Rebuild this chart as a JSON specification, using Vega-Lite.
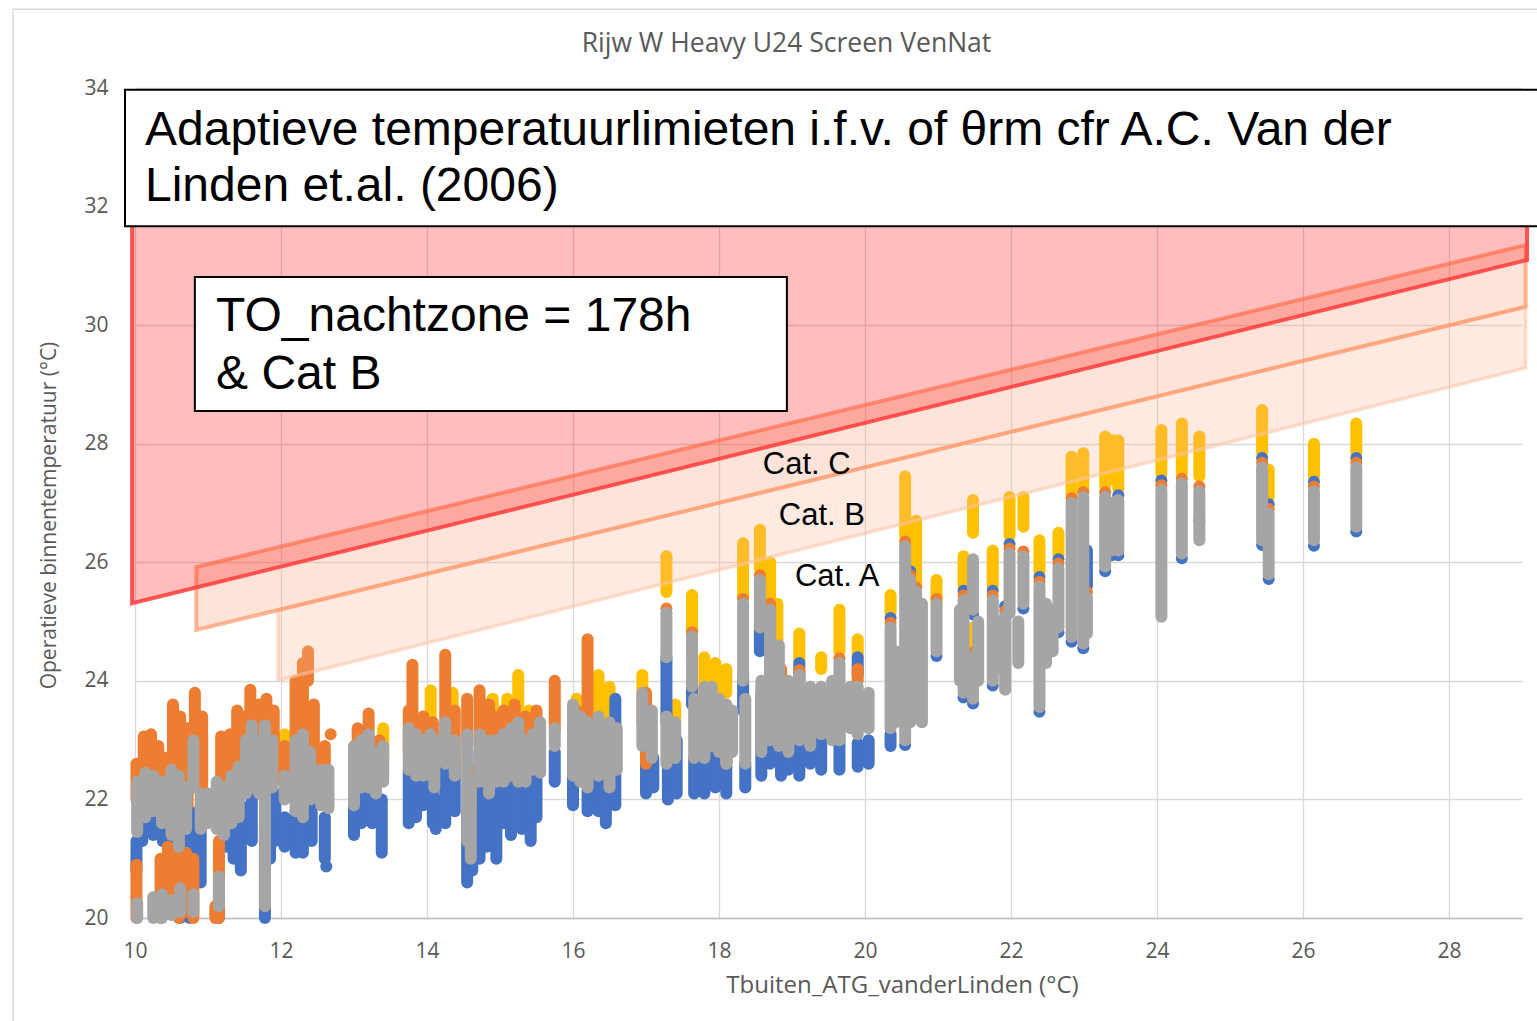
{
  "$schema": "https://vega.github.io/schema/vega-lite/v6.json",
  "autosize": "none",
  "width": 1387,
  "height": 830,
  "padding": {"left": 135, "top": 88, "right": 15, "bottom": 103},
  "background": "white",
  "title": {
    "text": "Rijw W Heavy U24 Screen VenNat",
    "font": "Open Sans",
    "fontSize": 26.5,
    "fontWeight": "normal",
    "color": "#595959",
    "anchor": "middle",
    "baseline": "bottom",
    "dx": -42,
    "offset": -76
  },
  "config": {
    "view": {"stroke": null},
    "axis": {
      "grid": true,
      "gridColor": "#d9d9d9",
      "gridWidth": 1.3,
      "ticks": false,
      "tickSize": 0,
      "labelFlush": false,
      "labelFont": "Open Sans",
      "labelFontSize": 21,
      "labelColor": "#595959",
      "titleFont": "Open Sans",
      "titleFontWeight": "normal",
      "titleColor": "#595959"
    },
    "axisX": {
      "domainColor": "#bfbfbf",
      "domainWidth": 1.5,
      "labelPadding": 22,
      "titleFontSize": 24,
      "titleX": 767,
      "titleY": 67,
      "titleAlign": "center",
      "titleBaseline": "middle"
    },
    "axisY": {
      "domain": false,
      "labelPadding": 27,
      "titleFontSize": 21,
      "titleX": -86,
      "titleY": 427,
      "titleAngle": -90,
      "titleAlign": "center",
      "titleBaseline": "middle"
    }
  },
  "datasets": {
    "reeksen": [
      {"x": 10.03, "s": "geel", "lo": 22.0, "hi": 22.25},
      {"x": 11.35, "s": "geel", "lo": 22.7, "hi": 23.0},
      {"x": 12.05, "s": "geel", "lo": 22.7, "hi": 23.1},
      {"x": 12.55, "s": "geel", "lo": 22.6, "hi": 22.8},
      {"x": 13.05, "s": "geel", "lo": 22.5, "hi": 22.8},
      {"x": 13.4, "s": "geel", "lo": 22.6, "hi": 23.2},
      {"x": 14.05, "s": "geel", "lo": 22.6, "hi": 23.84},
      {"x": 14.35, "s": "geel", "lo": 23.0, "hi": 23.8},
      {"x": 14.8, "s": "geel", "lo": 23.0, "hi": 23.6},
      {"x": 14.9, "s": "geel", "lo": 23.2, "hi": 23.7},
      {"x": 15.1, "s": "geel", "lo": 23.0, "hi": 23.7},
      {"x": 15.25, "s": "geel", "lo": 23.0, "hi": 24.1},
      {"x": 15.4, "s": "geel", "lo": 22.9, "hi": 23.5},
      {"x": 16.05, "s": "geel", "lo": 23.2, "hi": 23.7},
      {"x": 16.35, "s": "geel", "lo": 23.2, "hi": 24.1},
      {"x": 16.5, "s": "geel", "lo": 23.4, "hi": 23.9},
      {"x": 16.95, "s": "geel", "lo": 23.3, "hi": 24.1},
      {"x": 17.28, "s": "geel", "lo": 25.5, "hi": 26.1},
      {"x": 17.4, "s": "geel", "lo": 23.3, "hi": 23.6},
      {"x": 17.63, "s": "geel", "lo": 24.8, "hi": 25.45},
      {"x": 17.8, "s": "geel", "lo": 23.8, "hi": 24.4},
      {"x": 17.95, "s": "geel", "lo": 23.7, "hi": 24.3},
      {"x": 18.1, "s": "geel", "lo": 23.8, "hi": 24.2},
      {"x": 18.33, "s": "geel", "lo": 25.4, "hi": 26.32},
      {"x": 18.56, "s": "geel", "lo": 25.9, "hi": 26.55},
      {"x": 18.7, "s": "geel", "lo": 25.1, "hi": 26.0},
      {"x": 18.8, "s": "geel", "lo": 24.5, "hi": 25.3},
      {"x": 19.1, "s": "geel", "lo": 24.3, "hi": 24.8},
      {"x": 19.4, "s": "geel", "lo": 24.2, "hi": 24.4},
      {"x": 19.65, "s": "geel", "lo": 24.5, "hi": 25.2},
      {"x": 19.9, "s": "geel", "lo": 24.4, "hi": 24.7},
      {"x": 20.35, "s": "geel", "lo": 25.15, "hi": 25.45},
      {"x": 20.55, "s": "geel", "lo": 26.45, "hi": 27.45},
      {"x": 20.7, "s": "geel", "lo": 25.6, "hi": 26.7},
      {"x": 20.98, "s": "geel", "lo": 25.3, "hi": 25.7},
      {"x": 21.35, "s": "geel", "lo": 25.6, "hi": 26.1},
      {"x": 21.48, "s": "geel", "lo": 26.5, "hi": 27.05},
      {"x": 21.48, "s": "geel", "lo": 24.6, "hi": 24.9},
      {"x": 21.75, "s": "geel", "lo": 25.6, "hi": 26.2},
      {"x": 21.98, "s": "geel", "lo": 26.45, "hi": 27.1},
      {"x": 22.17, "s": "geel", "lo": 26.6, "hi": 27.1},
      {"x": 22.39, "s": "geel", "lo": 25.85, "hi": 26.37},
      {"x": 22.65, "s": "geel", "lo": 26.12, "hi": 26.5},
      {"x": 22.83, "s": "geel", "lo": 27.15, "hi": 27.78},
      {"x": 22.99, "s": "geel", "lo": 27.25, "hi": 27.84},
      {"x": 23.29, "s": "geel", "lo": 27.3, "hi": 28.12},
      {"x": 23.38, "s": "geel", "lo": 27.4, "hi": 28.06},
      {"x": 23.47, "s": "geel", "lo": 27.25, "hi": 28.06},
      {"x": 24.06, "s": "geel", "lo": 27.5, "hi": 28.23},
      {"x": 24.34, "s": "geel", "lo": 27.5, "hi": 28.34},
      {"x": 24.58, "s": "geel", "lo": 27.45, "hi": 28.12},
      {"x": 25.44, "s": "geel", "lo": 27.85, "hi": 28.57},
      {"x": 25.53, "s": "geel", "lo": 27.1, "hi": 27.56},
      {"x": 26.15, "s": "geel", "lo": 27.45, "hi": 28.0},
      {"x": 26.73, "s": "geel", "lo": 27.85, "hi": 28.34},

      {"x": 10.02, "s": "blauw", "lo": 20.8, "hi": 21.3},
      {"x": 10.1, "s": "blauw", "lo": 21.3, "hi": 21.9},
      {"x": 10.25, "s": "blauw", "lo": 21.4, "hi": 22.0},
      {"x": 10.38, "s": "blauw", "lo": 21.3, "hi": 21.9},
      {"x": 10.5, "s": "blauw", "lo": 21.3, "hi": 21.9},
      {"x": 10.62, "s": "blauw", "lo": 20.0, "hi": 21.1},
      {"x": 10.75, "s": "blauw", "lo": 20.0, "hi": 21.8},
      {"x": 10.9, "s": "blauw", "lo": 20.6, "hi": 21.9},
      {"x": 11.15, "s": "blauw", "lo": 20.0, "hi": 20.3},
      {"x": 11.25, "s": "blauw", "lo": 21.2, "hi": 21.9},
      {"x": 11.35, "s": "blauw", "lo": 21.0, "hi": 21.8},
      {"x": 11.45, "s": "blauw", "lo": 20.8, "hi": 21.9},
      {"x": 11.6, "s": "blauw", "lo": 21.3, "hi": 22.2},
      {"x": 11.78, "s": "blauw", "lo": 20.0, "hi": 21.5},
      {"x": 11.85, "s": "blauw", "lo": 21.0, "hi": 22.0},
      {"x": 11.92, "s": "blauw", "lo": 21.3, "hi": 22.1},
      {"x": 12.05, "s": "blauw", "lo": 21.2, "hi": 21.7},
      {"x": 12.2, "s": "blauw", "lo": 21.1, "hi": 21.8},
      {"x": 12.3, "s": "blauw", "lo": 21.1, "hi": 22.0},
      {"x": 12.42, "s": "blauw", "lo": 21.3, "hi": 22.0},
      {"x": 12.6, "s": "blauw", "lo": 21.0, "hi": 21.7},
      {"x": 12.62, "s": "blauw", "lo": 20.87, "hi": 20.87},
      {"x": 13.0, "s": "blauw", "lo": 21.4, "hi": 22.1},
      {"x": 13.1, "s": "blauw", "lo": 21.6, "hi": 22.2},
      {"x": 13.25, "s": "blauw", "lo": 21.6, "hi": 22.1},
      {"x": 13.38, "s": "blauw", "lo": 21.1, "hi": 22.0},
      {"x": 13.75, "s": "blauw", "lo": 21.6, "hi": 22.5},
      {"x": 13.85, "s": "blauw", "lo": 21.7, "hi": 22.4},
      {"x": 13.95, "s": "blauw", "lo": 21.9, "hi": 22.5},
      {"x": 14.08, "s": "blauw", "lo": 21.6, "hi": 22.3},
      {"x": 14.12, "s": "blauw", "lo": 21.5, "hi": 22.0},
      {"x": 14.25, "s": "blauw", "lo": 21.6, "hi": 22.9},
      {"x": 14.38, "s": "blauw", "lo": 21.8, "hi": 22.7},
      {"x": 14.55, "s": "blauw", "lo": 20.6, "hi": 21.8},
      {"x": 14.62, "s": "blauw", "lo": 20.8, "hi": 22.0},
      {"x": 14.72, "s": "blauw", "lo": 21.0, "hi": 22.8},
      {"x": 14.82, "s": "blauw", "lo": 21.2, "hi": 22.6},
      {"x": 14.95, "s": "blauw", "lo": 21.0, "hi": 22.3},
      {"x": 15.05, "s": "blauw", "lo": 21.6, "hi": 22.3},
      {"x": 15.15, "s": "blauw", "lo": 21.4, "hi": 22.4},
      {"x": 15.3, "s": "blauw", "lo": 21.5, "hi": 22.3},
      {"x": 15.42, "s": "blauw", "lo": 21.3, "hi": 22.5},
      {"x": 15.5, "s": "blauw", "lo": 21.7, "hi": 22.5},
      {"x": 15.75, "s": "blauw", "lo": 22.3, "hi": 22.8},
      {"x": 16.0, "s": "blauw", "lo": 21.9, "hi": 22.9},
      {"x": 16.2, "s": "blauw", "lo": 21.8, "hi": 22.8},
      {"x": 16.35, "s": "blauw", "lo": 21.8, "hi": 23.0},
      {"x": 16.45, "s": "blauw", "lo": 21.6, "hi": 23.2},
      {"x": 16.58, "s": "blauw", "lo": 21.9, "hi": 23.7},
      {"x": 17.0, "s": "blauw", "lo": 22.1, "hi": 22.6},
      {"x": 17.1, "s": "blauw", "lo": 22.2, "hi": 22.7},
      {"x": 17.28, "s": "blauw", "lo": 23.3, "hi": 24.4},
      {"x": 17.3, "s": "blauw", "lo": 22.0, "hi": 22.6},
      {"x": 17.42, "s": "blauw", "lo": 22.1, "hi": 23.0},
      {"x": 17.63, "s": "blauw", "lo": 23.6, "hi": 24.4},
      {"x": 17.66, "s": "blauw", "lo": 22.1, "hi": 22.7},
      {"x": 17.8, "s": "blauw", "lo": 22.1, "hi": 23.4},
      {"x": 17.95, "s": "blauw", "lo": 22.2, "hi": 23.1},
      {"x": 18.1, "s": "blauw", "lo": 22.1, "hi": 22.9},
      {"x": 18.33, "s": "blauw", "lo": 23.5, "hi": 24.1},
      {"x": 18.36, "s": "blauw", "lo": 22.2, "hi": 22.6},
      {"x": 18.56, "s": "blauw", "lo": 24.5, "hi": 24.95},
      {"x": 18.58, "s": "blauw", "lo": 22.4, "hi": 23.8},
      {"x": 18.7, "s": "blauw", "lo": 22.6, "hi": 24.0},
      {"x": 18.85, "s": "blauw", "lo": 22.4, "hi": 23.6},
      {"x": 18.95, "s": "blauw", "lo": 22.5, "hi": 23.2},
      {"x": 19.1, "s": "blauw", "lo": 22.4, "hi": 24.3},
      {"x": 19.25, "s": "blauw", "lo": 22.6, "hi": 23.4},
      {"x": 19.4, "s": "blauw", "lo": 22.5, "hi": 23.0},
      {"x": 19.65, "s": "blauw", "lo": 22.5, "hi": 23.1},
      {"x": 19.9, "s": "blauw", "lo": 24.1, "hi": 24.4},
      {"x": 19.9, "s": "blauw", "lo": 22.55, "hi": 22.95},
      {"x": 20.05, "s": "blauw", "lo": 22.6, "hi": 23.0},
      {"x": 20.35, "s": "blauw", "lo": 25.06, "hi": 25.06},
      {"x": 20.35, "s": "blauw", "lo": 22.9, "hi": 23.1},
      {"x": 20.55, "s": "blauw", "lo": 22.92, "hi": 22.92},
      {"x": 20.62, "s": "blauw", "lo": 25.85, "hi": 25.85},
      {"x": 20.7, "s": "blauw", "lo": 24.4, "hi": 24.8},
      {"x": 20.98, "s": "blauw", "lo": 24.42, "hi": 24.42},
      {"x": 21.35, "s": "blauw", "lo": 25.52, "hi": 25.52},
      {"x": 21.35, "s": "blauw", "lo": 23.72, "hi": 23.72},
      {"x": 21.48, "s": "blauw", "lo": 25.12, "hi": 25.12},
      {"x": 21.48, "s": "blauw", "lo": 23.62, "hi": 23.62},
      {"x": 21.75, "s": "blauw", "lo": 25.52, "hi": 25.52},
      {"x": 21.75, "s": "blauw", "lo": 23.92, "hi": 23.92},
      {"x": 21.92, "s": "blauw", "lo": 25.26, "hi": 25.26},
      {"x": 21.98, "s": "blauw", "lo": 26.31, "hi": 26.31},
      {"x": 22.17, "s": "blauw", "lo": 25.22, "hi": 25.22},
      {"x": 22.39, "s": "blauw", "lo": 25.75, "hi": 25.75},
      {"x": 22.39, "s": "blauw", "lo": 23.48, "hi": 23.48},
      {"x": 22.65, "s": "blauw", "lo": 26.05, "hi": 26.05},
      {"x": 22.65, "s": "blauw", "lo": 24.82, "hi": 24.82},
      {"x": 22.83, "s": "blauw", "lo": 24.66, "hi": 24.66},
      {"x": 22.99, "s": "blauw", "lo": 24.55, "hi": 24.55},
      {"x": 23.04, "s": "blauw", "lo": 25.6, "hi": 26.2},
      {"x": 23.29, "s": "blauw", "lo": 25.85, "hi": 25.85},
      {"x": 23.38, "s": "blauw", "lo": 26.12, "hi": 26.12},
      {"x": 23.47, "s": "blauw", "lo": 27.13, "hi": 27.13},
      {"x": 23.47, "s": "blauw", "lo": 26.12, "hi": 26.12},
      {"x": 24.06, "s": "blauw", "lo": 27.38, "hi": 27.38},
      {"x": 24.34, "s": "blauw", "lo": 26.07, "hi": 26.07},
      {"x": 24.58, "s": "blauw", "lo": 26.71, "hi": 26.71},
      {"x": 25.44, "s": "blauw", "lo": 27.76, "hi": 27.76},
      {"x": 25.44, "s": "blauw", "lo": 26.29, "hi": 26.29},
      {"x": 25.53, "s": "blauw", "lo": 26.98, "hi": 26.98},
      {"x": 25.53, "s": "blauw", "lo": 25.72, "hi": 25.72},
      {"x": 26.15, "s": "blauw", "lo": 27.36, "hi": 27.36},
      {"x": 26.15, "s": "blauw", "lo": 26.28, "hi": 26.28},
      {"x": 26.73, "s": "blauw", "lo": 27.76, "hi": 27.76},
      {"x": 26.73, "s": "blauw", "lo": 26.52, "hi": 26.52},

      {"x": 10.02, "s": "oranje", "lo": 22.0, "hi": 22.6},
      {"x": 10.12, "s": "oranje", "lo": 22.3, "hi": 23.06},
      {"x": 10.22, "s": "oranje", "lo": 22.2, "hi": 23.1},
      {"x": 10.32, "s": "oranje", "lo": 22.2, "hi": 22.9},
      {"x": 10.42, "s": "oranje", "lo": 22.0, "hi": 22.7},
      {"x": 10.52, "s": "oranje", "lo": 22.3, "hi": 23.6},
      {"x": 10.62, "s": "oranje", "lo": 22.0, "hi": 23.4},
      {"x": 10.72, "s": "oranje", "lo": 21.9, "hi": 23.2},
      {"x": 10.82, "s": "oranje", "lo": 22.3, "hi": 23.8},
      {"x": 10.92, "s": "oranje", "lo": 22.2, "hi": 23.4},
      {"x": 11.18, "s": "oranje", "lo": 22.3, "hi": 23.06},
      {"x": 11.3, "s": "oranje", "lo": 22.5, "hi": 23.1},
      {"x": 11.4, "s": "oranje", "lo": 22.4, "hi": 23.5},
      {"x": 11.48, "s": "oranje", "lo": 22.6, "hi": 23.4},
      {"x": 11.58, "s": "oranje", "lo": 22.8, "hi": 23.85},
      {"x": 11.7, "s": "oranje", "lo": 22.7, "hi": 23.6},
      {"x": 11.8, "s": "oranje", "lo": 22.5, "hi": 23.7},
      {"x": 11.9, "s": "oranje", "lo": 22.3, "hi": 23.5},
      {"x": 10.02, "s": "oranje", "lo": 20.0, "hi": 20.9},
      {"x": 10.35, "s": "oranje", "lo": 20.0, "hi": 21.0},
      {"x": 10.45, "s": "oranje", "lo": 20.1, "hi": 21.2},
      {"x": 10.6, "s": "oranje", "lo": 20.0, "hi": 21.3},
      {"x": 10.7, "s": "oranje", "lo": 20.1, "hi": 21.1},
      {"x": 10.8, "s": "oranje", "lo": 20.0, "hi": 21.0},
      {"x": 11.1, "s": "oranje", "lo": 20.0, "hi": 20.2},
      {"x": 11.15, "s": "oranje", "lo": 20.0, "hi": 21.3},
      {"x": 12.05, "s": "oranje", "lo": 22.3, "hi": 22.9},
      {"x": 12.2, "s": "oranje", "lo": 22.4, "hi": 24.0},
      {"x": 12.3, "s": "oranje", "lo": 22.7, "hi": 24.3},
      {"x": 12.37, "s": "oranje", "lo": 24.0, "hi": 24.5},
      {"x": 12.45, "s": "oranje", "lo": 22.5, "hi": 23.6},
      {"x": 12.6, "s": "oranje", "lo": 22.0, "hi": 22.9},
      {"x": 12.68, "s": "oranje", "lo": 23.1, "hi": 23.1},
      {"x": 13.05, "s": "oranje", "lo": 22.3, "hi": 23.2},
      {"x": 13.2, "s": "oranje", "lo": 22.5, "hi": 23.45},
      {"x": 13.35, "s": "oranje", "lo": 22.4, "hi": 23.0},
      {"x": 13.75, "s": "oranje", "lo": 22.8, "hi": 23.5},
      {"x": 13.8, "s": "oranje", "lo": 23.2, "hi": 24.27},
      {"x": 13.95, "s": "oranje", "lo": 22.8, "hi": 23.4},
      {"x": 14.08, "s": "oranje", "lo": 22.6, "hi": 23.3},
      {"x": 14.25, "s": "oranje", "lo": 22.8, "hi": 24.44},
      {"x": 14.38, "s": "oranje", "lo": 22.5, "hi": 23.5},
      {"x": 14.55, "s": "oranje", "lo": 23.0, "hi": 23.7},
      {"x": 14.6, "s": "oranje", "lo": 21.8, "hi": 22.5},
      {"x": 14.72, "s": "oranje", "lo": 22.9, "hi": 23.84},
      {"x": 14.85, "s": "oranje", "lo": 22.8, "hi": 23.6},
      {"x": 14.95, "s": "oranje", "lo": 22.6, "hi": 23.4},
      {"x": 15.05, "s": "oranje", "lo": 22.8, "hi": 23.5},
      {"x": 15.2, "s": "oranje", "lo": 22.8, "hi": 23.6},
      {"x": 15.35, "s": "oranje", "lo": 22.7, "hi": 23.4},
      {"x": 15.5, "s": "oranje", "lo": 23.1, "hi": 23.5},
      {"x": 15.75, "s": "oranje", "lo": 23.2, "hi": 24.0},
      {"x": 16.05, "s": "oranje", "lo": 23.0, "hi": 23.5},
      {"x": 16.2, "s": "oranje", "lo": 23.4, "hi": 24.7},
      {"x": 16.35, "s": "oranje", "lo": 23.0, "hi": 23.3},
      {"x": 16.5, "s": "oranje", "lo": 22.9, "hi": 23.2},
      {"x": 17.0, "s": "oranje", "lo": 22.6, "hi": 23.8},
      {"x": 17.28, "s": "oranje", "lo": 25.22, "hi": 25.22},
      {"x": 17.35, "s": "oranje", "lo": 23.0, "hi": 23.3},
      {"x": 17.63, "s": "oranje", "lo": 24.82, "hi": 24.82},
      {"x": 17.8, "s": "oranje", "lo": 22.8, "hi": 23.6},
      {"x": 17.95, "s": "oranje", "lo": 23.0, "hi": 23.6},
      {"x": 18.1, "s": "oranje", "lo": 22.6, "hi": 23.2},
      {"x": 18.33, "s": "oranje", "lo": 25.38, "hi": 25.38},
      {"x": 18.56, "s": "oranje", "lo": 25.78, "hi": 25.78},
      {"x": 18.7, "s": "oranje", "lo": 24.0, "hi": 25.3},
      {"x": 18.85, "s": "oranje", "lo": 23.4, "hi": 24.2},
      {"x": 19.1, "s": "oranje", "lo": 24.0, "hi": 24.18},
      {"x": 19.65, "s": "oranje", "lo": 24.38, "hi": 24.38},
      {"x": 19.9, "s": "oranje", "lo": 24.0, "hi": 24.2},
      {"x": 20.35, "s": "oranje", "lo": 24.98, "hi": 24.98},
      {"x": 20.55, "s": "oranje", "lo": 26.35, "hi": 26.35},
      {"x": 20.62, "s": "oranje", "lo": 25.78, "hi": 25.78},
      {"x": 20.7, "s": "oranje", "lo": 25.58, "hi": 25.58},
      {"x": 20.98, "s": "oranje", "lo": 25.38, "hi": 25.38},
      {"x": 21.35, "s": "oranje", "lo": 25.44, "hi": 25.44},
      {"x": 21.48, "s": "oranje", "lo": 24.48, "hi": 24.48},
      {"x": 21.75, "s": "oranje", "lo": 25.44, "hi": 25.44},
      {"x": 21.92, "s": "oranje", "lo": 25.18, "hi": 25.18},
      {"x": 21.98, "s": "oranje", "lo": 26.23, "hi": 26.23},
      {"x": 22.17, "s": "oranje", "lo": 26.18, "hi": 26.18},
      {"x": 22.39, "s": "oranje", "lo": 25.67, "hi": 25.67},
      {"x": 22.65, "s": "oranje", "lo": 25.98, "hi": 25.98},
      {"x": 22.83, "s": "oranje", "lo": 27.08, "hi": 27.08},
      {"x": 22.99, "s": "oranje", "lo": 27.18, "hi": 27.18},
      {"x": 23.04, "s": "oranje", "lo": 25.5, "hi": 25.5},
      {"x": 23.29, "s": "oranje", "lo": 27.18, "hi": 27.18},
      {"x": 24.06, "s": "oranje", "lo": 27.3, "hi": 27.3},
      {"x": 24.34, "s": "oranje", "lo": 27.41, "hi": 27.41},
      {"x": 24.58, "s": "oranje", "lo": 27.28, "hi": 27.28},
      {"x": 25.44, "s": "oranje", "lo": 27.68, "hi": 27.68},
      {"x": 25.53, "s": "oranje", "lo": 26.9, "hi": 26.9},
      {"x": 26.15, "s": "oranje", "lo": 27.28, "hi": 27.28},
      {"x": 26.73, "s": "oranje", "lo": 27.68, "hi": 27.68},

      {"x": 10.03, "s": "grijs", "lo": 21.45, "hi": 22.3},
      {"x": 10.03, "s": "grijs", "lo": 20.0, "hi": 20.25},
      {"x": 10.14, "s": "grijs", "lo": 21.7, "hi": 22.45},
      {"x": 10.25, "s": "grijs", "lo": 21.8, "hi": 22.4},
      {"x": 10.25, "s": "grijs", "lo": 20.0, "hi": 20.35},
      {"x": 10.37, "s": "grijs", "lo": 21.6, "hi": 22.3},
      {"x": 10.37, "s": "grijs", "lo": 20.0, "hi": 20.4},
      {"x": 10.5, "s": "grijs", "lo": 21.4, "hi": 22.5},
      {"x": 10.5, "s": "grijs", "lo": 20.05, "hi": 20.3},
      {"x": 10.6, "s": "grijs", "lo": 21.2, "hi": 22.4},
      {"x": 10.62, "s": "grijs", "lo": 20.1, "hi": 20.5},
      {"x": 10.7, "s": "grijs", "lo": 21.5, "hi": 22.2},
      {"x": 10.8, "s": "grijs", "lo": 22.2, "hi": 23.0},
      {"x": 10.8, "s": "grijs", "lo": 20.1, "hi": 20.4},
      {"x": 10.9, "s": "grijs", "lo": 21.5, "hi": 22.1},
      {"x": 11.0, "s": "grijs", "lo": 21.6, "hi": 22.1},
      {"x": 11.15, "s": "grijs", "lo": 20.2, "hi": 20.7},
      {"x": 11.12, "s": "grijs", "lo": 21.5, "hi": 22.3},
      {"x": 11.22, "s": "grijs", "lo": 21.4, "hi": 22.2},
      {"x": 11.32, "s": "grijs", "lo": 21.6, "hi": 22.4},
      {"x": 11.42, "s": "grijs", "lo": 21.7, "hi": 22.55},
      {"x": 11.52, "s": "grijs", "lo": 22.1, "hi": 23.0},
      {"x": 11.6, "s": "grijs", "lo": 22.2, "hi": 23.25},
      {"x": 11.7, "s": "grijs", "lo": 22.1, "hi": 23.0},
      {"x": 11.78, "s": "grijs", "lo": 20.2, "hi": 23.25},
      {"x": 11.88, "s": "grijs", "lo": 22.2, "hi": 23.0},
      {"x": 12.05, "s": "grijs", "lo": 22.0, "hi": 22.4},
      {"x": 12.2, "s": "grijs", "lo": 21.8, "hi": 23.0},
      {"x": 12.3, "s": "grijs", "lo": 21.7, "hi": 23.1},
      {"x": 12.4, "s": "grijs", "lo": 22.0, "hi": 22.8},
      {"x": 12.55, "s": "grijs", "lo": 21.9, "hi": 22.5},
      {"x": 12.65, "s": "grijs", "lo": 21.85, "hi": 22.5},
      {"x": 13.0, "s": "grijs", "lo": 21.9, "hi": 22.9},
      {"x": 13.1, "s": "grijs", "lo": 22.2, "hi": 23.0},
      {"x": 13.2, "s": "grijs", "lo": 22.2, "hi": 23.1},
      {"x": 13.3, "s": "grijs", "lo": 22.1, "hi": 22.8},
      {"x": 13.4, "s": "grijs", "lo": 22.3, "hi": 22.9},
      {"x": 13.75, "s": "grijs", "lo": 22.5, "hi": 23.2},
      {"x": 13.85, "s": "grijs", "lo": 22.4, "hi": 23.1},
      {"x": 13.95, "s": "grijs", "lo": 22.4, "hi": 23.0},
      {"x": 14.05, "s": "grijs", "lo": 22.4, "hi": 23.1},
      {"x": 14.1, "s": "grijs", "lo": 22.2, "hi": 23.0},
      {"x": 14.25, "s": "grijs", "lo": 22.6, "hi": 23.3},
      {"x": 14.38, "s": "grijs", "lo": 22.4, "hi": 23.0},
      {"x": 14.55, "s": "grijs", "lo": 21.3, "hi": 23.1},
      {"x": 14.6, "s": "grijs", "lo": 21.0, "hi": 22.3},
      {"x": 14.72, "s": "grijs", "lo": 22.3, "hi": 23.1},
      {"x": 14.85, "s": "grijs", "lo": 22.1, "hi": 23.0},
      {"x": 14.95, "s": "grijs", "lo": 22.3, "hi": 23.0},
      {"x": 15.05, "s": "grijs", "lo": 22.3, "hi": 23.1},
      {"x": 15.15, "s": "grijs", "lo": 22.4, "hi": 23.2},
      {"x": 15.25, "s": "grijs", "lo": 22.3, "hi": 23.3},
      {"x": 15.35, "s": "grijs", "lo": 22.3, "hi": 23.0},
      {"x": 15.45, "s": "grijs", "lo": 22.5, "hi": 23.1},
      {"x": 15.55, "s": "grijs", "lo": 22.45, "hi": 23.3},
      {"x": 15.75, "s": "grijs", "lo": 22.9, "hi": 23.2},
      {"x": 16.0, "s": "grijs", "lo": 22.4, "hi": 23.6},
      {"x": 16.1, "s": "grijs", "lo": 22.3, "hi": 23.4},
      {"x": 16.2, "s": "grijs", "lo": 22.2, "hi": 23.3},
      {"x": 16.35, "s": "grijs", "lo": 22.4, "hi": 23.4},
      {"x": 16.5, "s": "grijs", "lo": 22.2, "hi": 23.3},
      {"x": 16.6, "s": "grijs", "lo": 22.5, "hi": 23.2},
      {"x": 16.95, "s": "grijs", "lo": 22.9, "hi": 23.8},
      {"x": 17.08, "s": "grijs", "lo": 22.7, "hi": 23.5},
      {"x": 17.28, "s": "grijs", "lo": 24.4, "hi": 25.15},
      {"x": 17.28, "s": "grijs", "lo": 22.6, "hi": 23.4},
      {"x": 17.4, "s": "grijs", "lo": 22.7, "hi": 23.3},
      {"x": 17.63, "s": "grijs", "lo": 23.9, "hi": 24.75},
      {"x": 17.66, "s": "grijs", "lo": 22.7, "hi": 23.7},
      {"x": 17.8, "s": "grijs", "lo": 22.7, "hi": 23.9},
      {"x": 17.9, "s": "grijs", "lo": 22.9, "hi": 23.9},
      {"x": 18.0, "s": "grijs", "lo": 22.8, "hi": 23.7},
      {"x": 18.1, "s": "grijs", "lo": 22.6, "hi": 23.6},
      {"x": 18.18, "s": "grijs", "lo": 22.8, "hi": 23.5},
      {"x": 18.33, "s": "grijs", "lo": 24.0, "hi": 25.3},
      {"x": 18.36, "s": "grijs", "lo": 22.6, "hi": 23.7},
      {"x": 18.56, "s": "grijs", "lo": 24.9, "hi": 25.7},
      {"x": 18.58, "s": "grijs", "lo": 22.8, "hi": 24.0},
      {"x": 18.7, "s": "grijs", "lo": 23.0, "hi": 25.2},
      {"x": 18.82, "s": "grijs", "lo": 22.9, "hi": 24.6},
      {"x": 18.95, "s": "grijs", "lo": 22.8, "hi": 24.0},
      {"x": 19.1, "s": "grijs", "lo": 23.0, "hi": 24.1},
      {"x": 19.25, "s": "grijs", "lo": 22.9, "hi": 23.9},
      {"x": 19.4, "s": "grijs", "lo": 23.1, "hi": 23.9},
      {"x": 19.55, "s": "grijs", "lo": 23.0, "hi": 24.0},
      {"x": 19.65, "s": "grijs", "lo": 23.0, "hi": 24.3},
      {"x": 19.8, "s": "grijs", "lo": 23.2, "hi": 23.9},
      {"x": 19.9, "s": "grijs", "lo": 23.1, "hi": 23.9},
      {"x": 20.05, "s": "grijs", "lo": 23.2, "hi": 23.8},
      {"x": 20.35, "s": "grijs", "lo": 23.2, "hi": 24.9},
      {"x": 20.42, "s": "grijs", "lo": 23.3, "hi": 24.5},
      {"x": 20.55, "s": "grijs", "lo": 23.0, "hi": 26.27},
      {"x": 20.62, "s": "grijs", "lo": 23.3, "hi": 25.7},
      {"x": 20.7, "s": "grijs", "lo": 23.4, "hi": 25.5},
      {"x": 20.78, "s": "grijs", "lo": 23.3, "hi": 25.3},
      {"x": 20.98, "s": "grijs", "lo": 24.5, "hi": 25.3},
      {"x": 21.3, "s": "grijs", "lo": 24.0, "hi": 25.2},
      {"x": 21.35, "s": "grijs", "lo": 23.8, "hi": 25.36},
      {"x": 21.48, "s": "grijs", "lo": 25.2, "hi": 26.05},
      {"x": 21.48, "s": "grijs", "lo": 23.7, "hi": 24.4},
      {"x": 21.55, "s": "grijs", "lo": 24.0, "hi": 25.0},
      {"x": 21.75, "s": "grijs", "lo": 24.0, "hi": 25.36},
      {"x": 21.85, "s": "grijs", "lo": 24.2, "hi": 25.0},
      {"x": 21.92, "s": "grijs", "lo": 23.85, "hi": 25.1},
      {"x": 21.98, "s": "grijs", "lo": 25.14, "hi": 26.15},
      {"x": 22.1, "s": "grijs", "lo": 24.3, "hi": 25.0},
      {"x": 22.17, "s": "grijs", "lo": 25.3, "hi": 26.1},
      {"x": 22.39, "s": "grijs", "lo": 23.56, "hi": 25.59},
      {"x": 22.48, "s": "grijs", "lo": 24.3, "hi": 25.3},
      {"x": 22.57, "s": "grijs", "lo": 24.5, "hi": 25.2},
      {"x": 22.65, "s": "grijs", "lo": 24.9, "hi": 25.9},
      {"x": 22.83, "s": "grijs", "lo": 24.74, "hi": 27.0},
      {"x": 22.99, "s": "grijs", "lo": 24.63, "hi": 27.1},
      {"x": 23.04, "s": "grijs", "lo": 24.8, "hi": 25.4},
      {"x": 23.29, "s": "grijs", "lo": 25.93, "hi": 27.1},
      {"x": 23.38, "s": "grijs", "lo": 26.2, "hi": 27.0},
      {"x": 23.47, "s": "grijs", "lo": 26.2, "hi": 27.05},
      {"x": 24.06, "s": "grijs", "lo": 25.08, "hi": 27.22},
      {"x": 24.34, "s": "grijs", "lo": 26.15, "hi": 27.33},
      {"x": 24.58, "s": "grijs", "lo": 26.37, "hi": 27.2},
      {"x": 25.44, "s": "grijs", "lo": 26.37, "hi": 27.6},
      {"x": 25.53, "s": "grijs", "lo": 25.8, "hi": 26.82},
      {"x": 26.15, "s": "grijs", "lo": 26.37, "hi": 27.2},
      {"x": 26.73, "s": "grijs", "lo": 26.6, "hi": 27.6}
    ],
    "catA": [
      {"x": 11.96, "lo": 24.01, "hi": 25.19},
      {"x": 29.05, "lo": 29.28, "hi": 30.31}
    ],
    "catB": [
      {"x": 10.84, "lo": 24.86, "hi": 25.92},
      {"x": 29.05, "lo": 30.31, "hi": 31.35}
    ],
    "catC": [
      {"x": 9.96, "lo": 25.31, "hi": 32.5},
      {"x": 29.07, "lo": 31.1, "hi": 32.5}
    ],
    "labels": [
      {"x": 18.6, "y": 27.64, "t": "Cat. C"},
      {"x": 18.82, "y": 26.78, "t": "Cat. B"},
      {"x": 19.04, "y": 25.75, "t": "Cat. A"}
    ],
    "kaders": [
      {"x1": 9.863, "x2": 29.3, "y1": 31.67, "y2": 33.97},
      {"x1": 10.82, "x2": 18.93, "y1": 28.55, "y2": 30.81}
    ],
    "kadertekst": [
      {"x": 10.137, "y": 33.27, "t": "Adaptieve temperatuurlimieten i.f.v. of θrm cfr A.C. Van der"},
      {"x": 10.137, "y": 32.33, "t": "Linden et.al. (2006)"},
      {"x": 11.11, "y": 30.14, "t": "TO_nachtzone = 178h"},
      {"x": 11.11, "y": 29.16, "t": "& Cat B"}
    ],
    "rand": [
      {"x1": 8.33, "x2": 29.6, "y1": 18.0, "y2": 35.33}
    ]
  },
  "layer": [
    {
      "data": {"name": "rand"},
      "mark": {"type": "rect", "fill": null, "stroke": "#d9d9d9", "strokeWidth": 1.5},
      "encoding": {
        "x": {
          "field": "x1", "type": "quantitative",
          "scale": {"domain": [10, 29], "nice": false, "zero": false},
          "axis": {"values": [10, 12, 14, 16, 18, 20, 22, 24, 26, 28], "format": "d"},
          "title": "Tbuiten_ATG_vanderLinden (°C)"
        },
        "x2": {"field": "x2"},
        "y": {
          "field": "y1", "type": "quantitative",
          "scale": {"domain": [20, 34], "nice": false, "zero": false},
          "axis": {"values": [20, 22, 24, 26, 28, 30, 32, 34], "format": "d"},
          "title": "Operatieve binnentemperatuur (°C)"
        },
        "y2": {"field": "y2"}
      }
    },
    {
      "data": {"name": "reeksen"},
      "mark": {"type": "rule", "strokeWidth": 12, "strokeCap": "round"},
      "encoding": {
        "x": {"field": "x", "type": "quantitative", "axis": {"values": [10, 12, 14, 16, 18, 20, 22, 24, 26, 28], "format": "d"}, "title": "Tbuiten_ATG_vanderLinden (°C)"},
        "y": {"field": "lo", "type": "quantitative", "axis": {"values": [20, 22, 24, 26, 28, 30, 32, 34], "format": "d"}, "title": "Operatieve binnentemperatuur (°C)"},
        "y2": {"field": "hi"},
        "color": {
          "field": "s",
          "type": "nominal",
          "scale": {"domain": ["geel", "blauw", "oranje", "grijs"], "range": ["#ffc000", "#4472c4", "#ed7d31", "#a5a5a5"]},
          "legend": null
        }
      }
    },
    {
      "data": {"name": "catA"},
      "mark": {"type": "area", "fill": "#fbb38f", "fillOpacity": 0.28, "stroke": "#fcc4a8", "strokeWidth": 3.5, "strokeOpacity": 0.6},
      "encoding": {
        "x": {"field": "x", "type": "quantitative", "title": "Tbuiten_ATG_vanderLinden (°C)"},
        "y": {"field": "lo", "type": "quantitative", "title": "Operatieve binnentemperatuur (°C)"},
        "y2": {"field": "hi"}
      }
    },
    {
      "data": {"name": "catB"},
      "mark": {"type": "area", "fill": "#fba57f", "fillOpacity": 0.3, "stroke": "#ff8f5f", "strokeWidth": 4, "strokeOpacity": 0.65},
      "encoding": {
        "x": {"field": "x", "type": "quantitative", "title": "Tbuiten_ATG_vanderLinden (°C)"},
        "y": {"field": "lo", "type": "quantitative", "title": "Operatieve binnentemperatuur (°C)"},
        "y2": {"field": "hi"}
      }
    },
    {
      "data": {"name": "catC"},
      "mark": {"type": "area", "fill": "#ff0000", "fillOpacity": 0.26, "stroke": "#ff3b3b", "strokeWidth": 4, "strokeOpacity": 0.85},
      "encoding": {
        "x": {"field": "x", "type": "quantitative", "title": "Tbuiten_ATG_vanderLinden (°C)"},
        "y": {"field": "lo", "type": "quantitative", "title": "Operatieve binnentemperatuur (°C)"},
        "y2": {"field": "hi"}
      }
    },
    {
      "data": {"name": "labels"},
      "mark": {"type": "text", "font": "Liberation Sans", "fontSize": 31, "align": "left", "baseline": "middle", "color": "#000000"},
      "encoding": {
        "x": {"field": "x", "type": "quantitative", "title": "Tbuiten_ATG_vanderLinden (°C)"},
        "y": {"field": "y", "type": "quantitative", "title": "Operatieve binnentemperatuur (°C)"},
        "text": {"field": "t"}
      }
    },
    {
      "data": {"name": "kaders"},
      "mark": {"type": "rect", "fill": "#ffffff", "stroke": "#000000", "strokeWidth": 2},
      "encoding": {
        "x": {"field": "x1", "type": "quantitative", "title": "Tbuiten_ATG_vanderLinden (°C)"},
        "x2": {"field": "x2"},
        "y": {"field": "y1", "type": "quantitative", "title": "Operatieve binnentemperatuur (°C)"},
        "y2": {"field": "y2"}
      }
    },
    {
      "data": {"name": "kadertekst"},
      "mark": {"type": "text", "font": "Liberation Sans", "fontSize": 48, "align": "left", "baseline": "middle", "color": "#000000"},
      "encoding": {
        "x": {"field": "x", "type": "quantitative", "title": "Tbuiten_ATG_vanderLinden (°C)"},
        "y": {"field": "y", "type": "quantitative", "title": "Operatieve binnentemperatuur (°C)"},
        "text": {"field": "t"}
      }
    }
  ]
}
